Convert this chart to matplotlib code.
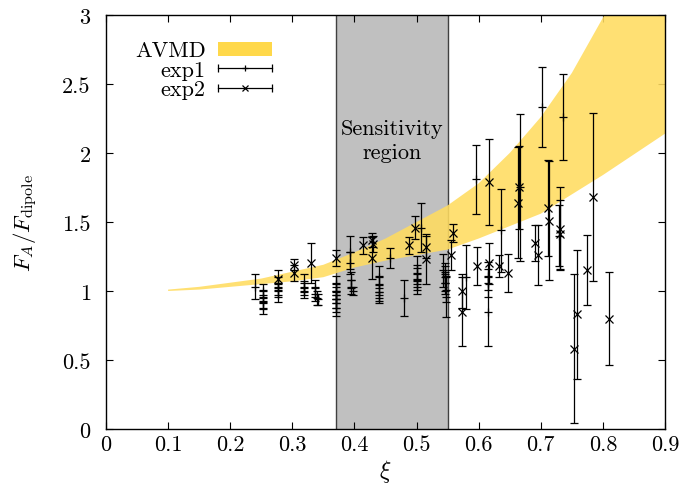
import matplotlib
matplotlib.use("Agg")
import matplotlib.pyplot as plt
from matplotlib.lines import Line2D
from matplotlib.patches import Patch
from matplotlib.legend_handler import HandlerBase
from matplotlib.ticker import FormatStrFormatter, MultipleLocator

# ---------------- data ----------------
band_xi = [0.10, 0.15, 0.20, 0.25, 0.30, 0.35, 0.40, 0.45, 0.50, 0.55, 0.60, 0.65, 0.70, 0.75, 0.80, 0.85, 0.90]
band_lo = [1.00, 1.01, 1.03, 1.05, 1.07, 1.10, 1.17, 1.22, 1.26, 1.30, 1.38, 1.47, 1.56, 1.70, 1.84, 1.99, 2.14]
band_hi = [1.01, 1.03, 1.06, 1.09, 1.14, 1.19, 1.28, 1.38, 1.50, 1.62, 1.78, 2.00, 2.26, 2.58, 2.98, 3.50, 4.00]

exp1_x = [0.240, 0.252, 0.252, 0.252, 0.252, 0.277, 0.277, 0.277, 0.318, 0.318, 0.318,
          0.337, 0.337, 0.340, 0.342, 0.370, 0.370, 0.370, 0.370, 0.370, 0.370,
          0.393, 0.393, 0.395, 0.395, 0.397, 0.440, 0.440, 0.440, 0.440, 0.457, 0.480,
          0.500, 0.500, 0.500, 0.500, 0.507, 0.543, 0.545, 0.545, 0.545, 0.547, 0.547,
          0.580, 0.596, 0.615, 0.615, 0.615, 0.636, 0.666, 0.702, 0.730, 0.735]
exp1_y = [1.03, 1.00, 0.96, 0.92, 0.88, 1.05, 1.01, 0.97, 1.06, 1.02, 0.99,
          1.02, 0.98, 0.95, 0.94, 1.05, 1.00, 0.97, 0.94, 0.91, 0.88,
          1.28, 1.20, 1.08, 1.03, 1.00, 1.10, 1.04, 0.99, 0.95, 1.24, 0.95,
          1.17, 1.12, 1.07, 1.03, 1.46, 1.15, 1.12, 1.10, 1.06, 1.01, 0.96,
          1.10, 1.81, 1.11, 1.06, 0.85, 1.44, 1.75, 2.33, 1.40, 2.26]
exp1_err = [0.09, 0.05, 0.05, 0.05, 0.05, 0.05, 0.05, 0.05, 0.06, 0.05, 0.04,
            0.06, 0.05, 0.05, 0.04, 0.06, 0.06, 0.06, 0.06, 0.06, 0.06,
            0.12, 0.08, 0.06, 0.05, 0.03, 0.08, 0.07, 0.06, 0.04, 0.07, 0.13,
            0.08, 0.07, 0.06, 0.05, 0.18, 0.12, 0.06, 0.10, 0.08, 0.09, 0.15,
            0.23, 0.25, 0.10, 0.10, 0.25, 0.30, 0.53, 0.29, 0.22, 0.31]

exp2_x = [0.277, 0.302, 0.302, 0.330, 0.370, 0.413, 0.428, 0.430, 0.428, 0.488, 0.498,
          0.515, 0.515, 0.556, 0.558, 0.573, 0.573, 0.598, 0.617, 0.617, 0.632, 0.647,
          0.665, 0.663, 0.691, 0.695, 0.711, 0.713, 0.731, 0.731, 0.754, 0.759, 0.774,
          0.784, 0.810]
exp2_y = [1.09, 1.19, 1.13, 1.20, 1.24, 1.33, 1.37, 1.34, 1.24, 1.33, 1.46,
          1.32, 1.23, 1.26, 1.42, 1.00, 0.85, 1.18, 1.79, 1.20, 1.18, 1.13,
          1.75, 1.64, 1.35, 1.26, 1.60, 1.51, 1.45, 1.41, 0.58, 0.83, 1.15,
          1.68, 0.80]
exp2_err = [0.06, 0.04, 0.06, 0.145, 0.06, 0.06, 0.05, 0.06, 0.15, 0.06, 0.085,
            0.08, 0.18, 0.11, 0.065, 0.12, 0.25, 0.14, 0.31, 0.15, 0.08, 0.14,
            0.30, 0.40, 0.13, 0.22, 0.35, 0.43, 0.30, 0.25, 0.54, 0.47, 0.255,
            0.61, 0.34]

region_lo, region_hi = 0.37, 0.55
region_label = "Sensitivity\nregion"

# ---------------- style ----------------
plt.rcParams["font.family"] = ["cmr10", "DejaVu Serif"]
plt.rcParams["mathtext.fontset"] = "cm"
plt.rcParams["axes.formatter.use_mathtext"] = True
FS = 16

fig = plt.figure(figsize=(6.86, 4.89), dpi=100)
ax = fig.add_axes([0.1545, 0.1207, 0.8149, 0.8466])

ax.axvspan(region_lo, region_hi, facecolor="#c0c0c0", edgecolor="none", zorder=1)
for xv in (region_lo, region_hi):
    ax.axvline(xv, color="#404040", lw=1.0, zorder=1.5)

ax.fill_between(band_xi, band_lo, band_hi, facecolor="#ffdc60", edgecolor="none",
                alpha=0.88, zorder=2)

ax.errorbar(exp1_x, exp1_y, yerr=exp1_err, fmt="+", color="black", ms=5.5, mew=0.9,
            elinewidth=0.9, capsize=3, capthick=0.9, zorder=3)
ax.errorbar(exp2_x, exp2_y, yerr=exp2_err, fmt="x", color="black", ms=5.2, mew=0.9,
            elinewidth=0.9, capsize=3, capthick=0.9, zorder=3)

ax.text((region_lo + region_hi) / 2, 2.09, region_label, ha="center", va="center",
        fontsize=FS, linespacing=1.3, zorder=4)

ax.set_xlim(0, 0.9)
ax.set_ylim(0, 3)
ax.xaxis.set_major_locator(MultipleLocator(0.1))
ax.yaxis.set_major_locator(MultipleLocator(0.5))
ax.xaxis.set_major_formatter(FormatStrFormatter("%g"))
ax.yaxis.set_major_formatter(FormatStrFormatter("%g"))
ax.tick_params(direction="in", top=True, right=True, length=5, width=0.8,
               labelsize=FS)
ax.tick_params(axis="x", pad=4)
ax.tick_params(axis="y", pad=11)
for s in ax.spines.values():
    s.set_linewidth(1.0)

ax.set_xlabel(r"$\xi$", fontsize=FS + 1, labelpad=2)
ax.set_ylabel(r"$F_A/F_{\rm dipole}$", fontsize=FS + 0.5, labelpad=16)


class ErrHandler(HandlerBase):
    def __init__(self, marker):
        super().__init__()
        self.marker = marker

    def create_artists(self, legend, orig_handle, xdescent, ydescent, width, height,
                       fontsize, trans):
        y = height / 2 - ydescent
        x0 = -xdescent
        x1 = x0 + width
        line = Line2D([x0, x1], [y, y], color="black", lw=0.9)
        caps = Line2D([x0, x1], [y, y], ls="none", marker="|", ms=6, mew=0.9, color="black")
        mid = Line2D([(x0 + x1) / 2], [y], ls="none", marker=self.marker, ms=5, mew=0.9,
                     color="black")
        for a in (line, caps, mid):
            a.set_transform(trans)
        return [line, caps, mid]


h_band = Patch(facecolor="#ffd84a", edgecolor="none")
h1 = Line2D([], [])
h2 = Line2D([], [], marker="x")
leg = ax.legend([h_band, h1, h2], ["AVMD", "exp1", "exp2"],
                handler_map={h1: ErrHandler("+"), h2: ErrHandler("x")},
                loc="upper left", bbox_to_anchor=(0.024, 0.975), frameon=False,
                markerfirst=False, fontsize=FS, handlelength=2.45, handleheight=0.6,
                labelspacing=0.0, handletextpad=0.55, borderpad=0.2)
for t in leg.get_texts():
    t.set_ha("right")

fig.savefig("out.png", dpi=100)
